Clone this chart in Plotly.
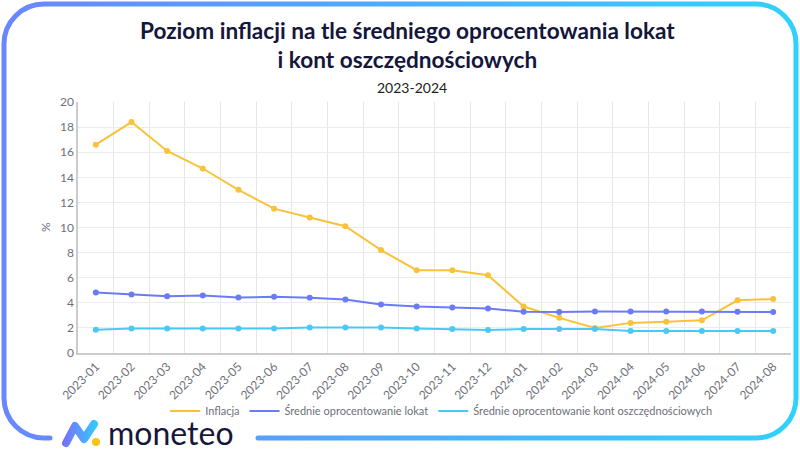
import base64
import plotly.graph_objects as go

# ---------------- data ----------------
months = ["2023-01", "2023-02", "2023-03", "2023-04", "2023-05", "2023-06", "2023-07",
          "2023-08", "2023-09", "2023-10", "2023-11", "2023-12", "2024-01", "2024-02",
          "2024-03", "2024-04", "2024-05", "2024-06", "2024-07", "2024-08"]
inflacja = [16.6, 18.4, 16.1, 14.7, 13.0, 11.5, 10.8, 10.1, 8.2, 6.6,
            6.6, 6.2, 3.7, 2.8, 2.0, 2.4, 2.5, 2.6, 4.2, 4.3]
lokaty = [4.82, 4.66, 4.53, 4.58, 4.42, 4.48, 4.40, 4.26, 3.87, 3.71,
          3.63, 3.55, 3.28, 3.26, 3.31, 3.31, 3.31, 3.31, 3.28, 3.26]
konta = [1.85, 1.96, 1.96, 1.96, 1.96, 1.96, 2.04, 2.04, 2.04, 1.96,
         1.91, 1.83, 1.91, 1.91, 1.91, 1.75, 1.75, 1.75, 1.75, 1.75]
series_names = ["Inflacja", "Średnie oprocentowanie lokat",
                "Średnie oprocentowanie kont oszczędnościowych"]
series_colors = ["#f8c33a", "#6b7bf5", "#4cc8f5"]
y_ticks = list(range(0, 21, 2))

title_text = "Poziom inflacji na tle średniego oprocentowania lokat<br>i kont oszczędnościowych"
subtitle_text = "2023-2024"
brand_text = "moneteo"

# ---------------- layout geometry ----------------
W, H = 800, 450
ML, MR, MT, MB = 78, 9, 102, 97
PW, PH = W - ML - MR, H - MT - MB


def px_x(x):
    return (x - ML) / PW


def px_y(y):
    return (H - MB - y) / PH


GREY = "#6e7079"
FONT = "Lato"

fig = go.Figure()
for name, vals, col in zip(series_names, [inflacja, lokaty, konta], series_colors):
    fig.add_trace(go.Scatter(
        x=months, y=vals, name=name, mode="lines+markers",
        line=dict(color=col, width=2), marker=dict(color=col, size=6),
        showlegend=False))
    fig.add_trace(go.Scatter(
        x=[None], y=[None], name=name, mode="lines",
        line=dict(color=col, width=2), showlegend=True))

# ---------------- decorative frame + logo mark (SVG) ----------------
svg = f'''<svg xmlns="http://www.w3.org/2000/svg" width="{W}" height="{H}" viewBox="0 0 {W} {H}">
<defs>
<linearGradient id="g" x1="0" y1="0" x2="{W}" y2="0" gradientUnits="userSpaceOnUse">
<stop offset="0" stop-color="#6a86ff"/><stop offset="1" stop-color="#2fd2fd"/></linearGradient>
<linearGradient id="lg" x1="62" y1="0" x2="100" y2="0" gradientUnits="userSpaceOnUse">
<stop offset="0" stop-color="#7a6cff"/><stop offset="1" stop-color="#2fd2fd"/></linearGradient>
</defs>
<path d="M 50 438 L 44 438 A 40 40 0 0 1 4 398 L 4 44 A 40 40 0 0 1 44 4 L 756 4 A 40 40 0 0 1 796 44 L 796 398 A 40 40 0 0 1 756 438 L 258 438"
 fill="none" stroke="url(#g)" stroke-width="5" stroke-linecap="round"/>
<path d="M 66 443 L 75 426 L 84 439 L 94 424" fill="none" stroke="url(#lg)" stroke-width="8"
 stroke-linejoin="round" stroke-linecap="round"/>
<circle cx="96" cy="442" r="4" fill="#f8c21a"/>
</svg>'''
src = "data:image/svg+xml;base64," + base64.b64encode(svg.encode("utf-8")).decode("ascii")

fig.add_layout_image(dict(
    source=src, xref="paper", yref="paper",
    x=px_x(0), y=px_y(0), sizex=W / PW, sizey=H / PH,
    xanchor="left", yanchor="top", sizing="stretch", layer="above"))

# ---------------- texts ----------------
fig.add_annotation(text="<b>" + title_text + "</b>", xref="paper", yref="paper",
                   x=px_x(407), y=px_y(45), xanchor="center", yanchor="middle",
                   showarrow=False, align="center",
                   font=dict(family=FONT, size=22.6, color="#14163a"))
fig.add_annotation(text=subtitle_text, xref="paper", yref="paper",
                   x=px_x(412), y=px_y(87), xanchor="center", yanchor="middle",
                   showarrow=False, font=dict(family=FONT, size=14, color="#222222"))
fig.add_annotation(text="%", xref="paper", yref="paper",
                   x=px_x(45), y=px_y(227), xanchor="center", yanchor="middle",
                   showarrow=False, textangle=-90, font=dict(family=FONT, size=12, color=GREY))
fig.add_annotation(text=brand_text, xref="paper", yref="paper",
                   x=px_x(106), y=px_y(432), xanchor="left", yanchor="middle",
                   showarrow=False, font=dict(family=FONT, size=32, color="#15163a"))

fig.update_layout(
    width=W, height=H,
    margin=dict(l=ML, r=MR, t=MT, b=MB, autoexpand=False),
    paper_bgcolor="white", plot_bgcolor="white",
    font=dict(family=FONT, color=GREY, size=12),
    legend=dict(orientation="h", x=0.51, xanchor="center", y=px_y(411), yanchor="middle",
                font=dict(family=FONT, size=11, color=GREY), itemwidth=30,
                bgcolor="rgba(0,0,0,0)"),
    xaxis=dict(type="category", tickson="boundaries", showgrid=True, gridcolor="#e6e6e6",
               gridwidth=1, showline=True, linecolor="#cccccc", linewidth=2,
               ticks="", tickangle=-45, tickfont=dict(size=12, color=GREY),
               range=[-0.5, len(months) - 0.5], automargin=False),
    yaxis=dict(range=[0, 20], tickvals=y_ticks, showgrid=True, gridcolor="#ebebeb",
               gridwidth=1, showline=True, linecolor="#cccccc", linewidth=1.5,
               zeroline=False, ticks="", tickfont=dict(size=12, color=GREY),
               automargin=False),
    hovermode="x unified",
)

fig.write_html("out.html", config={"displayModeBar": False},
               post_script="document.body.style.margin='0';document.body.style.padding='0';")
